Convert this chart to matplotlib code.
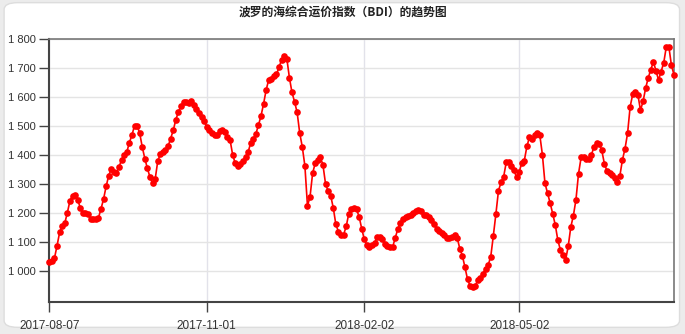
import matplotlib.pyplot as plt
from matplotlib.patches import FancyBboxPatch
from matplotlib.ticker import FuncFormatter

plt.rcParams['font.family'] = ['Liberation Sans', 'Noto Sans CJK SC', 'DejaVu Sans']

title = "波罗的海综合运价指数（BDI）的趋势图"

# BDI values, one per trading day
bdi = [
    1033, 1035, 1045, 1088, 1134, 1154, 1166, 1202, 1243, 1260,
    1262, 1246, 1218, 1201, 1200, 1198, 1180, 1180, 1181, 1183,
    1214, 1248, 1292, 1329, 1352, 1343, 1340, 1359, 1384, 1401,
    1410, 1443, 1469, 1501, 1501, 1476, 1428, 1388, 1354, 1324,
    1303, 1317, 1379, 1404, 1410, 1418, 1430, 1457, 1485, 1522,
    1549, 1568, 1582, 1582, 1580, 1587, 1572, 1559, 1545, 1531,
    1519, 1497, 1485, 1476, 1471, 1471, 1483, 1487, 1478, 1464,
    1453, 1402, 1372, 1361, 1370, 1381, 1393, 1411, 1441, 1455,
    1473, 1503, 1535, 1577, 1625, 1660, 1664, 1671, 1678, 1703,
    1729, 1742, 1733, 1667, 1616, 1584, 1547, 1476, 1428, 1363,
    1225, 1257, 1338, 1372, 1384, 1393, 1366, 1301, 1276, 1260,
    1218, 1161, 1136, 1124, 1126, 1154, 1198, 1215, 1217, 1213,
    1188, 1147, 1110, 1090, 1083, 1090, 1097, 1119, 1119, 1110,
    1094, 1085, 1083, 1083, 1115, 1145, 1166, 1181, 1186, 1191,
    1193, 1200, 1207, 1211, 1209, 1193, 1195, 1186, 1177, 1163,
    1147, 1140, 1133, 1124, 1115, 1115, 1119, 1124, 1115, 1078,
    1053, 1014, 972, 949, 947, 949, 970, 977, 991, 1009,
    1021, 1050, 1122, 1198, 1278, 1306, 1326, 1375, 1375, 1361,
    1347, 1324, 1342, 1372, 1381, 1430, 1462, 1455, 1471, 1476,
    1469, 1402, 1303, 1269, 1235, 1198, 1159, 1106, 1073, 1055,
    1039, 1085, 1152, 1191, 1246, 1336, 1392, 1392, 1387, 1387,
    1401, 1429, 1442, 1440, 1417, 1371, 1346, 1339, 1330, 1321,
    1309, 1328, 1383, 1422, 1475, 1567, 1610, 1617, 1608, 1555,
    1585, 1631, 1666, 1695, 1721, 1691, 1659, 1688, 1718, 1773,
    1773, 1709, 1677,
]
tick_idx = [0, 61, 122, 182]
tick_labels = ["2017-08-07", "2017-11-01", "2018-02-02", "2018-05-02"]
y_ticks = [1000, 1100, 1200, 1300, 1400, 1500, 1600, 1700, 1800]

fig = plt.figure(figsize=(6.85, 3.34), dpi=100, facecolor='#ececec')
card = FancyBboxPatch((0.006, 0.02), 0.986, 0.972, transform=fig.transFigure,
                      boxstyle="round,pad=0,rounding_size=0.02",
                      facecolor='white', edgecolor='#dddddd', linewidth=1, zorder=-1)
fig.patches.append(card)

ax = fig.add_axes([0.072, 0.097, 0.912, 0.786])
ax.set_zorder(1)
ax.set_facecolor('white')

x = list(range(len(bdi)))
ax.plot(x, bdi, color='#ff0000', linewidth=1.2, marker='o', markersize=4.8,
        markeredgewidth=0, clip_on=False, zorder=3)

ax.set_xlim(0, len(bdi) - 1)
ax.set_ylim(895, 1800)
ax.set_xticks(tick_idx)
ax.set_xticklabels(tick_labels)
ax.set_yticks(y_ticks)
ax.yaxis.set_major_formatter(FuncFormatter(lambda v, p: f"{int(v):,}".replace(",", " ")))

ax.grid(axis='y', color='#e4e4e4', linewidth=1)
ax.grid(axis='x', color='#e2e2ea', linewidth=1)
ax.set_axisbelow(True)

ax.tick_params(axis='x', length=7, width=1, color='#444444', pad=6, labelsize=8.5,
               labelcolor='#333333')
ax.tick_params(axis='y', length=7, width=1, color='#444444', pad=3, labelsize=8,
               labelcolor='#333333')

for side in ['left', 'bottom']:
    ax.spines[side].set_color('#444444')
    ax.spines[side].set_linewidth(1.5)
for side in ['top', 'right']:
    ax.spines[side].set_color('#777777')
    ax.spines[side].set_linewidth(1.2)

fig.text(0.5, 0.965, title, ha='center', va='center', fontsize=8.5,
         fontweight='bold', color='#222222', family=['Noto Sans CJK SC', 'DejaVu Sans'])

fig.savefig('out.png', dpi=100, facecolor=fig.get_facecolor())
